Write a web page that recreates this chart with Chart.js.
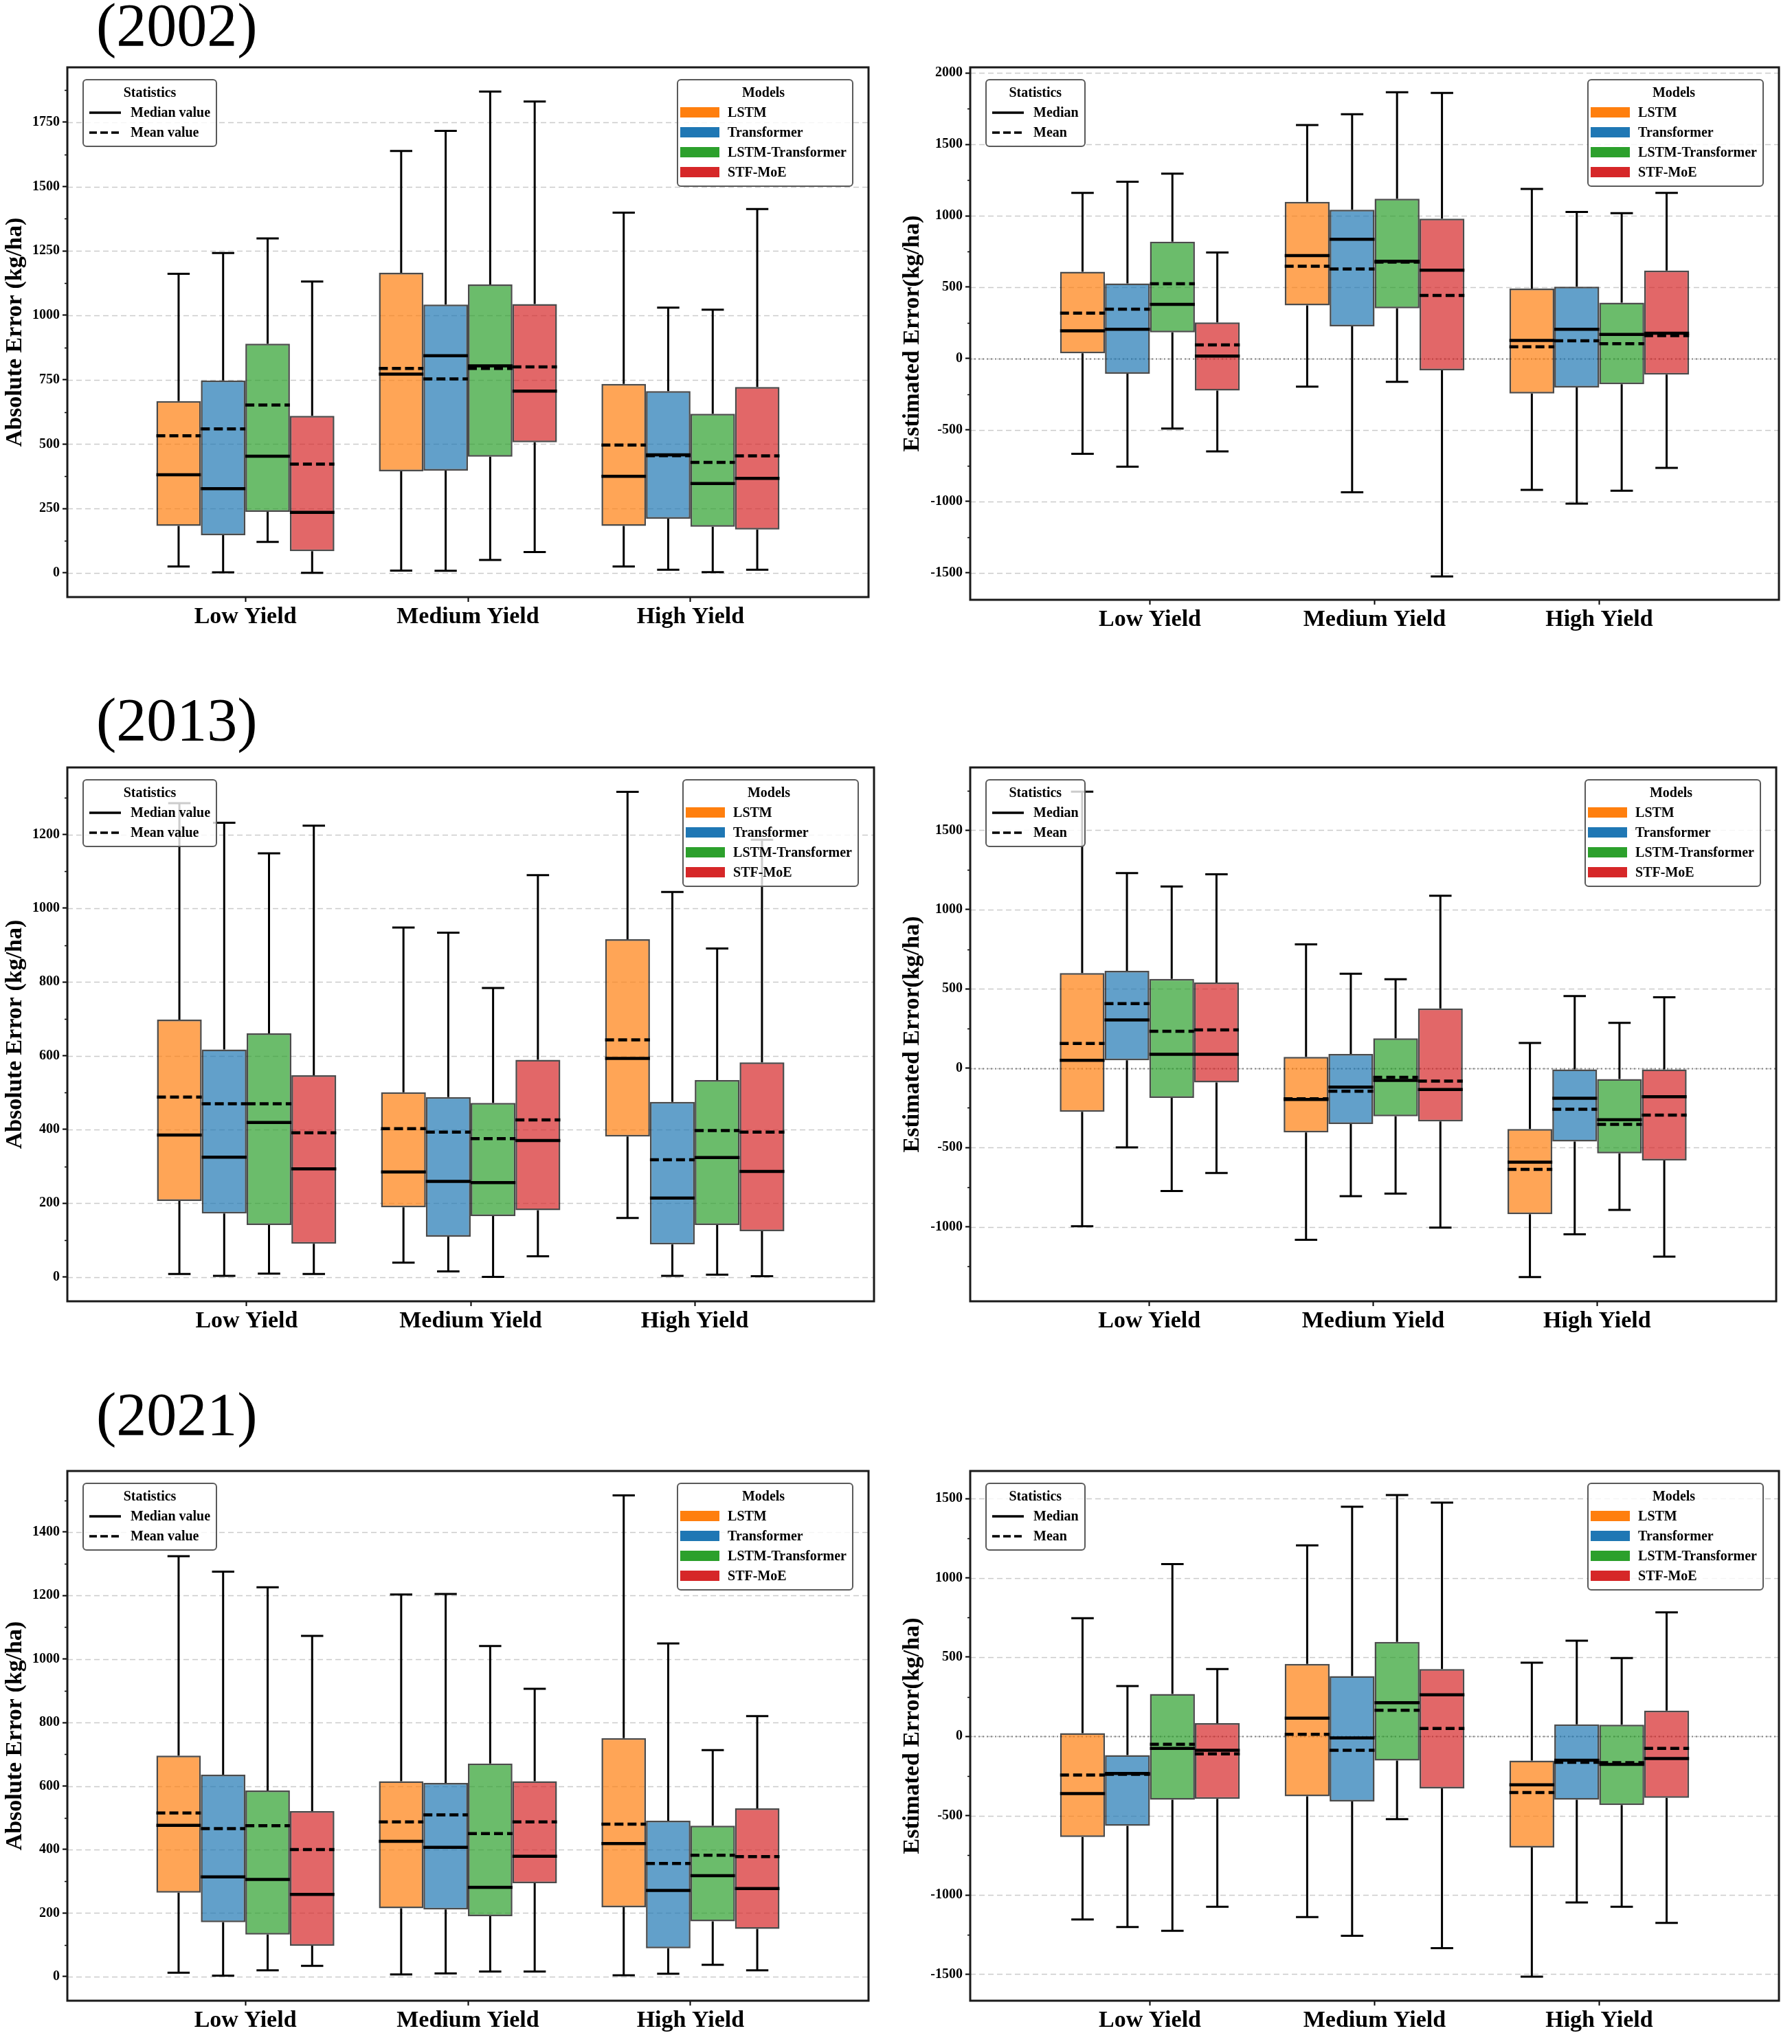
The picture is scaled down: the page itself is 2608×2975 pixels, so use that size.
<!DOCTYPE html>
<html>
<head>
<meta charset="utf-8">
<script src="https://cdn.jsdelivr.net/npm/chart.js@4.4.1/dist/chart.umd.min.js"></script>
<style>
  body { margin: 0; background: #fff; }
  #page { position: relative; width: 2608px; height: 2975px; overflow: hidden;
          font-family: "Liberation Serif", "Times New Roman", serif; }
  .cell { position: absolute; }
  .year { position: absolute; font-size: 88px; line-height: 1; color: #000; }
  .legend { position: absolute; box-sizing: border-box; background: rgba(255,255,255,0.8);
            border: 2px solid #5a5a5a; border-radius: 6px; padding: 3px 8px 5px 8px;
            font-weight: bold; font-size: 20px; color: #000; }
  .legend .lt { text-align: center; height: 29px; line-height: 29px; }
  .legend .row { height: 29px; display: flex; align-items: center; white-space: nowrap; }
  .legend svg { margin-right: 14px; }
  .legend .patch { display: inline-block; width: 57px; height: 15px; margin-right: 12px; }
  .legend.models { padding-left: 3px; }
</style>
</head>
<body>
<div id="page"></div>
<script>
const categories = ['Low Yield', 'Medium Yield', 'High Yield'];
const models = ['LSTM', 'Transformer', 'LSTM-Transformer', 'STF-MoE'];
const modelColors = ['#ff7f0e', '#1f77b4', '#2ca02c', '#d62728'];

// each entry per category: [lower whisker, q1, median, mean, q3, upper whisker]
const abs2002_LSTM  = [[25, 182, 381, 532, 667, 1161], [9, 394, 772, 794, 1165, 1638], [25, 182, 375, 496, 734, 1399]];
const abs2002_Trans = [[2, 146, 327, 559, 747, 1242], [8, 397, 843, 753, 1042, 1716], [12, 210, 458, 455, 706, 1030]];
const abs2002_LT    = [[120, 237, 453, 652, 890, 1299], [50, 451, 804, 794, 1120, 1869], [3, 179, 347, 429, 618, 1022]];
const abs2002_STF   = [[0, 84, 235, 422, 610, 1131], [81, 507, 706, 800, 1044, 1830], [12, 168, 367, 454, 722, 1413]];

const est2002_LSTM  = [[-667, 37, 194, 318, 608, 1160], [-197, 372, 721, 647, 1098, 1636], [-920, -245, 127, 82, 490, 1188]];
const est2002_Trans = [[-757, -107, 205, 346, 526, 1239], [-937, 225, 836, 628, 1042, 1712], [-1016, -203, 205, 124, 504, 1027]];
const est2002_LT    = [[-490, 183, 380, 524, 819, 1295], [-163, 352, 681, 676, 1120, 1866], [-926, -180, 169, 104, 391, 1019]];
const est2002_STF   = [[-650, -225, 17, 96, 253, 743], [-1526, -82, 619, 442, 980, 1861], [-766, -113, 177, 160, 616, 1160]];

const abs2013_LSTM  = [[8, 206, 385, 488, 698, 1285], [39, 189, 285, 402, 501, 948], [160, 381, 593, 643, 916, 1316]];
const abs2013_Trans = [[3, 172, 325, 470, 617, 1232], [15, 109, 259, 393, 488, 934], [3, 88, 214, 318, 475, 1044]];
const abs2013_LT    = [[9, 141, 419, 470, 661, 1149], [0, 165, 256, 375, 472, 784], [6, 141, 324, 397, 534, 891]];
const abs2013_STF   = [[8, 90, 293, 391, 547, 1224], [56, 181, 370, 426, 589, 1090], [2, 124, 286, 393, 582, 1186]];

const est2013_LSTM  = [[-997, -275, 50, 156, 600, 1743], [-1082, -405, -198, -193, 71, 780], [-1317, -921, -593, -638, -384, 159]];
const est2013_Trans = [[-500, 50, 304, 407, 614, 1230], [-807, -352, -119, -146, 90, 595], [-1048, -463, -190, -259, -8, 455]];
const est2013_LT    = [[-775, -188, 87, 233, 563, 1145], [-791, -304, -77, -58, 188, 561], [-894, -537, -325, -354, -69, 286]];
const est2013_STF   = [[-661, -90, 87, 241, 540, 1222], [-1005, -336, -135, -82, 376, 1087], [-1188, -582, -180, -296, -8, 447]];

const abs2021_LSTM  = [[12, 264, 476, 515, 696, 1324], [7, 215, 426, 487, 615, 1203], [4, 218, 419, 480, 751, 1515]];
const abs2021_Trans = [[3, 171, 314, 466, 636, 1275], [10, 211, 407, 509, 610, 1205], [9, 89, 271, 356, 491, 1049]];
const abs2021_LT    = [[20, 132, 306, 475, 586, 1226], [16, 190, 281, 450, 671, 1041], [37, 174, 318, 382, 475, 713]];
const abs2021_STF   = [[34, 97, 259, 400, 521, 1073], [16, 294, 379, 487, 615, 906], [20, 150, 277, 378, 530, 820]];

const est2021_LSTM  = [[-1155, -635, -360, -244, 21, 746], [-1139, -378, 115, 13, 457, 1205], [-1515, -701, -305, -354, -152, 465]];
const est2021_Trans = [[-1202, -564, -234, -239, -118, 318], [-1257, -410, -10, -87, 381, 1449], [-1047, -399, -150, -163, 76, 604]];
const est2021_LT    = [[-1226, -399, -76, -50, 268, 1087], [-522, -152, 213, 165, 596, 1522], [-1074, -433, -176, -165, 74, 494]];
const est2021_STF   = [[-1074, -394, -87, -110, 84, 425], [-1336, -328, 262, 50, 425, 1475], [-1176, -388, -139, -76, 163, 782]];

const ticksAbs2002 = [0, 250, 500, 750, 1000, 1250, 1500, 1750];
const ticksEst2002 = [-1500, -1000, -500, 0, 500, 1000, 1500, 2000];
const ticksAbs2013 = [0, 200, 400, 600, 800, 1000, 1200];
const ticksEst2013 = [-1000, -500, 0, 500, 1000, 1500];
const ticksAbs2021 = [0, 200, 400, 600, 800, 1000, 1200, 1400];
const ticksEst2021 = [-1500, -1000, -500, 0, 500, 1000, 1500];

const years = ['(2002)', '(2013)', '(2021)'];
const absTitle = 'Absolute Error (kg/ha)';
const estTitle = 'Estimated Error(kg/ha)';
const absStats = ['Median value', 'Mean value'];
const estStats = ['Median', 'Mean'];

const panels = [
  { series: [abs2002_LSTM, abs2002_Trans, abs2002_LT, abs2002_STF], ticks: ticksAbs2002, min: -94, max: 1963,
    title: absTitle, stats: absStats, zero: false,
    cell: { l: 0, t: 0, r: 1300, b: 980 }, frame: { l: 98, t: 98, r: 1264, b: 869 } },
  { series: [est2002_LSTM, est2002_Trans, est2002_LT, est2002_STF], ticks: ticksEst2002, min: -1690, max: 2040,
    title: estTitle, stats: estStats, zero: true,
    cell: { l: 1300, t: 0, r: 2608, b: 980 }, frame: { l: 1412, t: 98, r: 2589, b: 873 } },
  { series: [abs2013_LSTM, abs2013_Trans, abs2013_LT, abs2013_STF], ticks: ticksAbs2013, min: -66, max: 1382,
    title: absTitle, stats: absStats, zero: false,
    cell: { l: 0, t: 980, r: 1300, b: 1980 }, frame: { l: 98, t: 1117, r: 1272, b: 1894 } },
  { series: [est2013_LSTM, est2013_Trans, est2013_LT, est2013_STF], ticks: ticksEst2013, min: -1470, max: 1896,
    title: estTitle, stats: estStats, zero: true,
    cell: { l: 1300, t: 980, r: 2608, b: 1980 }, frame: { l: 1412, t: 1117, r: 2585, b: 1894 } },
  { series: [abs2021_LSTM, abs2021_Trans, abs2021_LT, abs2021_STF], ticks: ticksAbs2021, min: -76, max: 1592,
    title: absTitle, stats: absStats, zero: false,
    cell: { l: 0, t: 2000, r: 1300, b: 2975 }, frame: { l: 98, t: 2141, r: 1264, b: 2912 } },
  { series: [est2021_LSTM, est2021_Trans, est2021_LT, est2021_STF], ticks: ticksEst2021, min: -1667, max: 1674,
    title: estTitle, stats: estStats, zero: true,
    cell: { l: 1300, t: 2000, r: 2608, b: 2975 }, frame: { l: 1412, t: 2141, r: 2589, b: 2912 } }
];

function withAlpha(hex, a) {
  const n = parseInt(hex.slice(1), 16);
  return `rgba(${n >> 16},${(n >> 8) & 255},${n & 255},${a})`;
}

const boxStats = {
  id: 'boxStats',
  beforeDatasetsDraw(chart, args, opts) {
    const { ctx, chartArea: a, scales: { y } } = chart;
    ctx.save();
    ctx.strokeStyle = 'rgba(190,190,190,0.8)';
    ctx.lineWidth = 1.5;
    ctx.setLineDash([8, 5]);
    y.ticks.forEach(t => {
      const py = Math.round(y.getPixelForValue(t.value)) + 0.5;
      ctx.beginPath(); ctx.moveTo(a.left, py); ctx.lineTo(a.right, py); ctx.stroke();
    });
    if (opts.zero) {
      const py = Math.round(y.getPixelForValue(0)) + 0.5;
      ctx.strokeStyle = '#808080';
      ctx.lineWidth = 2;
      ctx.setLineDash([2, 4]);
      ctx.beginPath(); ctx.moveTo(a.left, py); ctx.lineTo(a.right, py); ctx.stroke();
    }
    ctx.restore();
  },
  afterDatasetsDraw(chart) {
    const { ctx, scales: { y } } = chart;
    ctx.save();
    ctx.strokeStyle = '#000';
    chart.data.datasets.forEach((ds, i) => {
      chart.getDatasetMeta(i).data.forEach((bar, j) => {
        const [lo, q1, med, mean, q3, hi] = ds.stats[j];
        const x = bar.x, w = bar.width, cw = w * 0.25;
        ctx.setLineDash([]);
        ctx.lineWidth = 3;
        ctx.beginPath();
        ctx.moveTo(x, y.getPixelForValue(q3)); ctx.lineTo(x, y.getPixelForValue(hi));
        ctx.moveTo(x, y.getPixelForValue(q1)); ctx.lineTo(x, y.getPixelForValue(lo));
        ctx.moveTo(x - cw, y.getPixelForValue(hi)); ctx.lineTo(x + cw, y.getPixelForValue(hi));
        ctx.moveTo(x - cw, y.getPixelForValue(lo)); ctx.lineTo(x + cw, y.getPixelForValue(lo));
        ctx.stroke();
        ctx.lineWidth = 4.5;
        ctx.beginPath();
        ctx.moveTo(x - w / 2, y.getPixelForValue(med)); ctx.lineTo(x + w / 2, y.getPixelForValue(med));
        ctx.stroke();
        ctx.setLineDash([13, 6]);
        ctx.beginPath();
        ctx.moveTo(x - w / 2, y.getPixelForValue(mean)); ctx.lineTo(x + w / 2, y.getPixelForValue(mean));
        ctx.stroke();
      });
    });
    ctx.restore();
  },
  afterDraw(chart) {
    const { ctx, chartArea: a, scales: { y } } = chart;
    ctx.save();
    // minor ticks halfway between the major ticks
    const vals = y.ticks.map(t => t.value);
    const half = (vals[1] - vals[0]) / 2;
    ctx.strokeStyle = '#000';
    ctx.lineWidth = 1.5;
    ctx.beginPath();
    for (let v = vals[0] - half; v <= y.max; v += 2 * half) {
      if (v < y.min) continue;
      const py = Math.round(y.getPixelForValue(v)) + 0.5;
      ctx.moveTo(a.left - 4, py); ctx.lineTo(a.left, py);
    }
    ctx.stroke();
    ctx.strokeStyle = '#1a1a1a';
    ctx.lineWidth = 3;
    ctx.strokeRect(a.left, a.top, a.right - a.left, a.bottom - a.top);
    ctx.restore();
  }
};

const page = document.getElementById('page');

panels.forEach((p, k) => {
  const box = document.createElement('div');
  box.className = 'cell';
  box.style.left = p.cell.l + 'px';
  box.style.top = p.cell.t + 'px';
  box.style.width = (p.cell.r - p.cell.l) + 'px';
  box.style.height = (p.cell.b - p.cell.t) + 'px';
  const canvas = document.createElement('canvas');
  box.appendChild(canvas);
  page.appendChild(box);

  const leftPanel = p.cell.l === 0;
  const datasets = p.series.map((s, m) => ({
    label: models[m],
    data: s.map((v, j) => ({ x: j, y: [v[1], v[4]] })),
    stats: s,
    backgroundColor: withAlpha(modelColors[m], 0.7),
    borderColor: 'rgba(30,30,30,0.8)',
    borderWidth: 2.5,
    borderSkipped: false,
    categoryPercentage: 0.8,
    barPercentage: 1.0
  }));

  new Chart(canvas, {
    type: 'bar',
    data: { datasets },
    plugins: [boxStats],
    options: {
      responsive: true,
      maintainAspectRatio: false,
      devicePixelRatio: 1,
      animation: false,
      events: [],
      layout: { padding: { left: 0, top: p.frame.t - p.cell.t, right: p.cell.r - p.frame.r, bottom: 0 } },
      plugins: {
        legend: { display: false },
        tooltip: { enabled: false },
        boxStats: { zero: p.zero }
      },
      scales: {
        x: {
          type: 'linear', min: -0.8, max: 2.8, offset: false,
          afterBuildTicks: s => { s.ticks = categories.map((c, j) => ({ value: j })); },
          afterFit: s => { s.height = p.cell.b - p.frame.b; },
          ticks: {
            callback: (v, j) => categories[j],
            autoSkip: false, maxRotation: 0, padding: 2, color: '#000',
            font: { family: '"Liberation Serif"', size: 34, weight: 'bold' }
          },
          grid: { offset: false, drawOnChartArea: false, drawTicks: true, tickLength: 7, tickColor: '#000', tickWidth: 2 },
          border: { display: false }
        },
        y: {
          min: p.min, max: p.max,
          afterBuildTicks: s => { s.ticks = p.ticks.map(v => ({ value: v })); },
          afterFit: s => { s.width = p.frame.l - p.cell.l; },
          ticks: {
            callback: v => String(v),
            padding: 4, color: '#000',
            font: { family: '"Liberation Serif"', size: 20, weight: 'bold' }
          },
          grid: { offset: false, drawOnChartArea: false, drawTicks: true, tickLength: 7, tickColor: '#000', tickWidth: 2 },
          border: { display: false },
          title: {
            display: true, text: p.title, color: '#000',
            padding: { top: leftPanel ? 2 : 8, bottom: 0 },
            font: { family: '"Liberation Serif"', size: 34, weight: 'bold' }
          }
        }
      }
    }
  });

  // statistics legend
  const st = document.createElement('div');
  st.className = 'legend';
  st.style.left = (p.frame.l + 22) + 'px';
  st.style.top = (p.frame.t + 17) + 'px';
  st.innerHTML = '<div class="lt">Statistics</div>' +
    p.stats.map((t, i) => '<div class="row"><svg width="46" height="10"><line x1="0" y1="5" x2="46" y2="5" stroke="#000" stroke-width="3.5"' +
      (i === 1 ? ' stroke-dasharray="11 5"' : '') + '/></svg>' + t + '</div>').join('');
  page.appendChild(st);

  // models legend
  const md = document.createElement('div');
  md.className = 'legend models';
  md.style.right = (2608 - p.frame.r + 22) + 'px';
  md.style.top = (p.frame.t + 17) + 'px';
  md.innerHTML = '<div class="lt">Models</div>' +
    models.map((t, i) => '<div class="row"><span class="patch" style="background:' + modelColors[i] + '"></span>' + t + '</div>').join('');
  page.appendChild(md);
});

const yearTops = [-7, 1004, 2015];
years.forEach((t, i) => {
  const d = document.createElement('div');
  d.className = 'year';
  d.style.left = '140px';
  d.style.top = yearTops[i] + 'px';
  d.textContent = t;
  page.appendChild(d);
});
</script>
</body>
</html>
